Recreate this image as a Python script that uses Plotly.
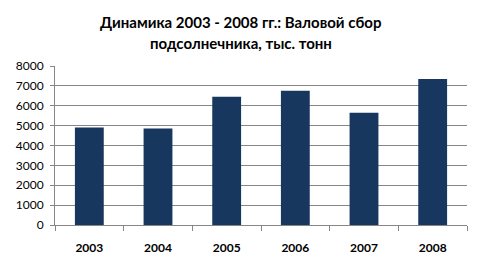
import plotly.graph_objects as go

years = ["2003", "2004", "2005", "2006", "2007", "2008"]
values = [4910, 4850, 6450, 6750, 5650, 7350]
y_ticks = [0, 1000, 2000, 3000, 4000, 5000, 6000, 7000, 8000]
title_lines = ["Динамика 2003 - 2008 гг.: Валовой сбор", "подсолнечника, тыс. тонн"]

W, H, L, R, T, B = 483, 271, 55, 16, 66, 46
plot_h = H - T - B
plot_w = W - L - R

fig = go.Figure(go.Bar(x=years, y=values, marker=dict(color="#17375E", line=dict(width=0)), width=0.42))

for line, ypx in zip(title_lines, [22, 43]):
    fig.add_annotation(text=line, xref="paper", yref="paper", x=(W / 2 - 1 - L) / plot_w, xanchor="center",
                       y=1 + (T - ypx) / plot_h, yanchor="middle", showarrow=False,
                       font=dict(family="Lato", size=15, color="black", weight="bold"))

fig.update_layout(
    width=W, height=H,
    margin=dict(l=L, r=R, t=T, b=B),
    paper_bgcolor="white", plot_bgcolor="white",
    showlegend=False,
    font=dict(family="Lato", color="black"),
)
fig.update_xaxes(
    type="category", showline=True, linecolor="#868686", linewidth=1,
    ticks="outside", tickson="boundaries", ticklen=5, tickcolor="#868686",
    tickfont=dict(family="Lato", size=12, color="black", weight="bold"),
    ticklabelstandoff=12, showgrid=False,
)
fig.update_yaxes(
    range=[0, 8000], tickvals=y_ticks, showline=True, linecolor="#868686", linewidth=1,
    ticks="outside", ticklen=4, tickcolor="#868686",
    gridcolor="#868686", gridwidth=1, zeroline=False,
    tickfont=dict(family="Lato", size=12, color="black"),
    ticklabelstandoff=4,
)
fig.write_html("out.html")
